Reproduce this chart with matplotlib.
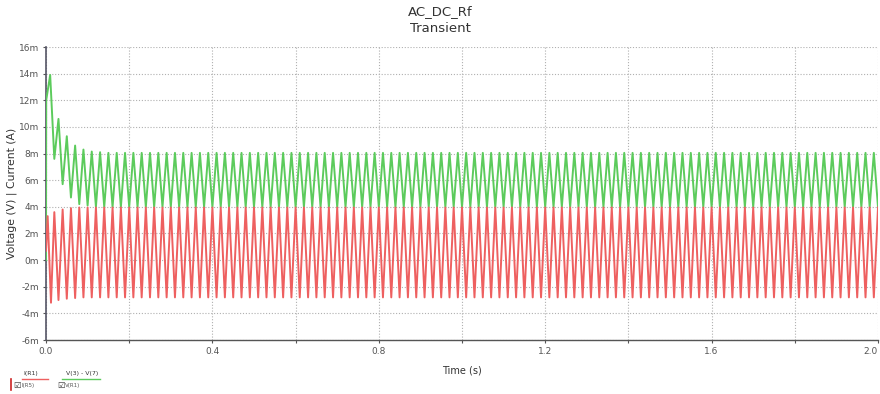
import numpy as np
import matplotlib
matplotlib.use("Agg")
import matplotlib.pyplot as plt
from matplotlib.ticker import FuncFormatter, MultipleLocator

# ---- data (values in mA / mV) ----
period = 0.02  # s, 50 Hz
n_cycles = 100

# green trace V(3) - V(7): value at t=0 and jump, then extrema per cycle
green_start = [0.0, 12.0]
green_peaks = [13.9, 10.6, 9.3, 8.6, 8.3, 8.15, 8.1] + [8.05] * (n_cycles - 7)
green_troughs = [7.6, 5.7, 4.7, 4.2, 4.1, 4.0] + [3.98] * (n_cycles - 6)

# red trace I(R1)
red_start = [0.7]
red_peaks = [3.3, 3.6, 3.8, 3.9] + [3.95] * (n_cycles - 4)
red_troughs = [-3.2, -3.0, -2.9, -2.85] + [-2.8] * (n_cycles - 4)

x_ticks_major = [0.0, 0.4, 0.8, 1.2, 1.6, 2.0]
y_ticks = [-6, -4, -2, 0, 2, 4, 6, 8, 10, 12, 14, 16]

title_lines = ["AC_DC_Rf", "Transient"]
legend_names = ["I(R1)", "V(3) - V(7)"]
legend_sub = ["I(R5)", "V(R1)"]

# ---- build sample sequences ----
g_t = [0.0, 0.0005]
g_v = list(green_start)
for k in range(n_cycles):
    g_t.append(period * k + period / 2)
    g_v.append(green_peaks[k])
    g_t.append(period * (k + 1))
    g_v.append(green_troughs[k])

r_t = [0.0, 0.004]
r_v = [red_start[0], red_peaks[0]]
for k in range(n_cycles):
    r_t.append(period * k + period / 2 + 0.002 * (k == 0))
    r_v.append(red_troughs[k])
    if k + 1 < n_cycles:
        r_t.append(period * (k + 1))
        r_v.append(red_peaks[k + 1])
r_t.append(2.0)
r_v.append(red_peaks[-1])

GREEN = "#5ccb5c"
RED = "#ee6060"
TXT = "#333333"
TICK = "#555555"

fig = plt.figure(figsize=(8.8, 3.94), dpi=100)
W, H = 880, 394
ax = fig.add_axes([46 / W, 1 - 340 / H, (878 - 46) / W, (340 - 47) / H])

ax.plot(g_t, g_v, color=GREEN, lw=1.4, zorder=3, solid_joinstyle="round")
ax.plot(r_t, r_v, color=RED, lw=1.4, zorder=3, solid_joinstyle="round")

ax.set_xlim(0, 2.0)
ax.set_ylim(-6, 16)
ax.xaxis.set_major_locator(MultipleLocator(0.2))
ax.set_yticks(y_ticks)


def xfmt(v, pos):
    if any(abs(v - m) < 1e-6 for m in x_ticks_major):
        return f"{v:.1f}"
    return ""


ax.xaxis.set_major_formatter(FuncFormatter(xfmt))
ax.yaxis.set_major_formatter(FuncFormatter(lambda v, p: f"{int(round(v))}m"))

ax.grid(True, color="#b0b0b0", linestyle=(0, (1.0, 1.6)), lw=0.8, zorder=0)
for s in ["top", "right"]:
    ax.spines[s].set_visible(False)
ax.spines["left"].set_color("#555566")
ax.spines["bottom"].set_color("#555555")
ax.spines["left"].set_linewidth(1.2)
ax.spines["bottom"].set_linewidth(1.0)
ax.tick_params(axis="both", length=2, width=0.8, colors=TICK, labelsize=6.5,
               labelcolor=TICK, pad=3)

fig.canvas.draw()
for lb in ax.get_xticklabels():
    if lb.get_text() == "2.0":
        lb.set_horizontalalignment("right")

ax.set_xlabel("Time (s)", fontsize=7, color=TXT, labelpad=7)
ax.set_ylabel("Voltage (V) | Current (A)", fontsize=7.8, color=TXT, labelpad=1)

fig.text(440 / W, 1 - 12 / H, title_lines[0], ha="center", va="center",
         fontsize=9.5, color=TXT)
fig.text(440 / W, 1 - 28 / H, title_lines[1], ha="center", va="center",
         fontsize=9.5, color=TXT)

# legend-like area at bottom-left
fig.text(23 / W, 1 - 373 / H, legend_names[0], fontsize=4.5, color=TXT, ha="left", va="center")
fig.text(66 / W, 1 - 373 / H, legend_names[1], fontsize=4.5, color=TXT, ha="left", va="center")
fig.lines.append(plt.Line2D([22 / W, 48 / W], [1 - 379 / H] * 2, color=RED, lw=1.0,
                            transform=fig.transFigure))
fig.lines.append(plt.Line2D([62 / W, 100 / W], [1 - 379 / H] * 2, color=GREEN, lw=1.0,
                            transform=fig.transFigure))
fig.lines.append(plt.Line2D([11 / W, 11 / W], [1 - 379 / H, 1 - 390 / H], color="#cc2222",
                            lw=1.2, transform=fig.transFigure))
fig.text(13 / W, 1 - 385 / H, "\u2611", fontsize=6, color="#333333", ha="left", va="center")
fig.text(57 / W, 1 - 385 / H, "\u2611", fontsize=6, color="#333333", ha="left", va="center")
fig.text(21 / W, 1 - 386 / H, legend_sub[0], fontsize=4, color="#555555", ha="left", va="center")
fig.text(65 / W, 1 - 386 / H, legend_sub[1], fontsize=4, color="#555555", ha="left", va="center")

fig.savefig("out.png", dpi=100, facecolor="white")
